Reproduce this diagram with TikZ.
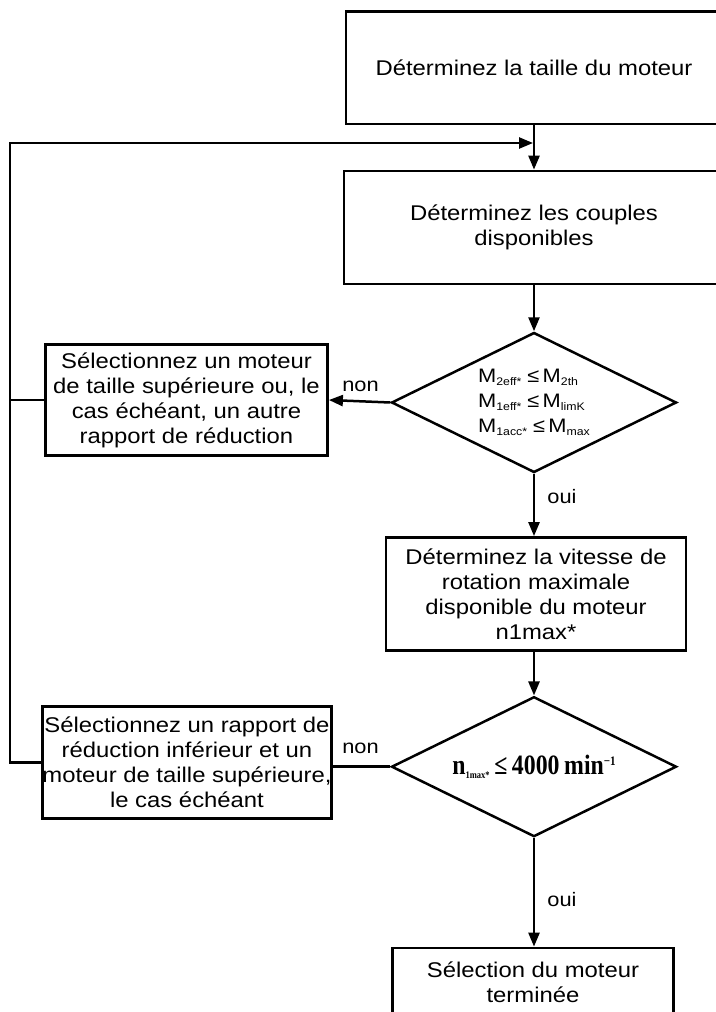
\documentclass[tikz,border=0pt]{standalone}
\usepackage{fontspec}
\setmainfont{Liberation Sans}[FakeStretch=1.12]
\newfontfamily\dtwofont{Liberation Serif}[FakeStretch=0.85]
\usetikzlibrary{shapes.geometric,arrows.meta}
\newcommand\Msub[1]{M\raisebox{-2.8pt}{\fontsize{11}{11}\selectfont #1}}
\tikzset{
  box/.style={draw, line width=2.8pt, align=center, inner sep=0pt,
    font=\fontsize{21.3}{25}\selectfont},
  dia/.style={draw, diamond, aspect=2, line width=2.5pt, minimum width=285pt,
    minimum height=140pt, inner sep=0pt, align=left},
  arr/.style={line width=2.5pt, line join=miter, -{Triangle[length=14pt,width=11pt]}},
  ln/.style={line width=2.5pt},
  lbl/.style={font=\fontsize{19.5}{22}\selectfont, inner sep=0pt},
}
\begin{document}
\begin{tikzpicture}[x=1pt,y=-1pt]
\useasboundingbox (0,0) rectangle (715,1012);
\node[box, minimum width=376pt, minimum height=112.3pt] (b1) at (534,67.85) {Déterminez la taille du moteur};
\node[box, minimum width=380pt, minimum height=113pt] (b2) at (534,227.5) {Déterminez les couples\\disponibles};
\node[dia, font=\fontsize{19.5}{25}\selectfont] (d1) at (534,402.5)
  {\Msub{2eff*}\ ≤\,\Msub{2th}\\\Msub{1eff*}\ ≤\,\Msub{limK}\\\Msub{1acc*}\ ≤\,\Msub{max}};
\node[box, minimum width=282pt, minimum height=111.4pt] (lb1) at (186.5,400) {Sélectionnez un moteur\\de taille supérieure ou, le\\cas échéant, un autre\\rapport de réduction};
\node[box, minimum width=300pt, minimum height=113pt] (b3) at (536,594) {Déterminez la vitesse de\\rotation maximale\\disponible du moteur\\n1max*};
\node[dia, font=\dtwofont\bfseries\fontsize{28}{30}\selectfont] (d2) at (534,766.7)
  {n\raisebox{-3.5pt}{\fontsize{10}{10}\selectfont 1max*}\,≤\,4000\,min\raisebox{9pt}{\fontsize{13}{13}\selectfont −1}};
\node[box, minimum width=282.7pt, minimum height=111.6pt] (lb2) at (187,762.5) {Sélectionnez un rapport de\\réduction inférieur et un\\moteur de taille supérieure,\\le cas échéant};
\node[box, minimum width=280.6pt, minimum height=69pt] (b4) at (533,982.5) {Sélection du moteur\\terminée};
\coordinate (fb) at (10,143);
\coordinate (j1) at (533,143);
\draw[arr] (b1.south) -- (b2.north);
\draw[arr] (b2.south) -- (d1.north);
\draw[arr] (d1.west) -- (lb1.east);
\draw[arr] (d1.south) -- (d1.south |- b3.north);
\draw[arr] (b3.south -| d2.north) -- (d2.north);
\draw[ln] (d2.west) -- (d2.west -| lb2.east);
\draw[arr] (d2.south) -- (d2.south |- b4.north);
\draw[ln] (lb1.west) -- (lb1.west -| fb);
\draw[arr] (lb2.west) -| (fb) -- (j1);
\node[lbl, anchor=base] (n1) at (360.5,391.7) {non};
\node[lbl, anchor=base] (n2) at (360.5,753.3) {non};
\node[lbl, anchor=base] (o1) at (562,503.3) {oui};
\node[lbl, anchor=base] (o2) at (562,906) {oui};
\end{tikzpicture}
\end{document}
